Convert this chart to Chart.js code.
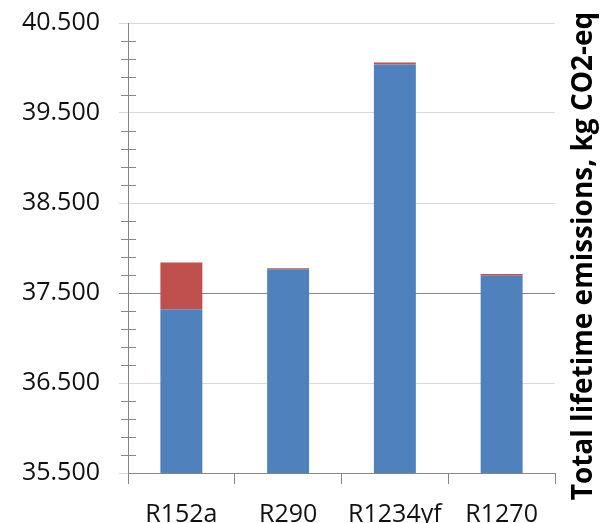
<!DOCTYPE html>
<html>
<head>
<meta charset="utf-8">
<script src="https://cdn.jsdelivr.net/npm/chart.js@4/dist/chart.umd.min.js"></script>
<style>
  html, body { margin: 0; padding: 0; background: #fff; }
  #wrap { width: 602px; height: 523px; }
</style>
</head>
<body>
<div id="wrap"><canvas id="c" width="602" height="523"></canvas></div>
<script>
// Refrigerant options and their lifetime emissions (kg CO2-eq)
const categories = ['R152a', 'R290', 'R1234yf', 'R1270'];
const indirectEmissions = [37320, 37765, 40040, 37692];
const directEmissions = [520, 10, 20, 18];

// Value axis range and tick spacing
const yMin = 35500;
const yMax = 40500;
const yMajorStep = 1000;
const yMinorStep = 200;
const yTitle = 'Total lifetime emissions, kg CO2-eq';

const FONT = '"Open Sans", "DejaVu Sans", sans-serif';
const AXIS_GREY = '#868686';
const GRID_GREY = '#d9d9d9';
const TEXT = '#111';

// Thousands grouped with a dot, e.g. 40.500
function formatThousands(v) {
  const s = String(Math.round(v));
  return s.replace(/\B(?=(\d{3})+(?!\d))/g, '.');
}

// Small marks between the labelled values on the value axis
const minorTicks = {
  id: 'minorTicks',
  afterDraw(chart) {
    const y = chart.scales.y;
    const ctx = chart.ctx;
    const x0 = y.right;
    ctx.save();
    ctx.strokeStyle = AXIS_GREY;
    ctx.lineWidth = 1;
    for (let v = yMin + yMinorStep; v < yMax; v += yMinorStep) {
      if ((v - yMin) % yMajorStep === 0) continue;
      const py = Math.round(y.getPixelForValue(v)) + 0.5;
      ctx.beginPath();
      ctx.moveTo(x0 - 7, py);
      ctx.lineTo(x0 + 8, py);
      ctx.stroke();
    }
    ctx.restore();
  }
};

// Value axis title set at the right edge, reading upwards
const sideTitle = {
  id: 'sideTitle',
  afterDraw(chart) {
    const ctx = chart.ctx;
    ctx.save();
    ctx.translate(584, 256);
    ctx.rotate(-Math.PI / 2);
    ctx.font = 'bold 28px ' + FONT;
    ctx.fillStyle = '#000';
    ctx.textAlign = 'center';
    ctx.textBaseline = 'middle';
    ctx.fillText(yTitle, 0, 0);
    ctx.restore();
  }
};

new Chart(document.getElementById('c'), {
  type: 'bar',
  data: {
    labels: categories,
    datasets: [
      {
        label: 'Indirect',
        data: indirectEmissions,
        backgroundColor: '#4f81bd',
        borderWidth: 0,
        categoryPercentage: 1,
        barPercentage: 0.393
      },
      {
        label: 'Direct',
        data: directEmissions,
        backgroundColor: '#c0504d',
        borderWidth: 0,
        categoryPercentage: 1,
        barPercentage: 0.393
      }
    ]
  },
  options: {
    responsive: false,
    devicePixelRatio: 1,
    animation: false,
    layout: { padding: { left: 0, right: 47, top: 23, bottom: 0 } },
    plugins: {
      legend: { display: false },
      tooltip: { enabled: false },
      title: { display: false }
    },
    scales: {
      x: {
        stacked: true,
        offset: true,
        grid: {
          offset: true,
          drawOnChartArea: false,
          drawTicks: true,
          tickLength: 11,
          color: AXIS_GREY
        },
        border: { display: true, color: AXIS_GREY },
        ticks: {
          color: TEXT,
          font: { family: FONT, size: 25 },
          padding: 16,
          maxRotation: 0,
          autoSkip: false
        },
        afterFit(scale) { scale.height = 50; }
      },
      y: {
        stacked: true,
        min: yMin,
        max: yMax,
        grid: {
          drawTicks: true,
          tickLength: 9,
          color: (c) => (c.tick && c.tick.value === 37500 ? AXIS_GREY : GRID_GREY)
        },
        border: { display: true, color: AXIS_GREY },
        ticks: {
          stepSize: yMajorStep,
          autoSkip: false,
          color: TEXT,
          font: { family: FONT, size: 25 },
          padding: 19,
          callback: (v) => formatThousands(v)
        },
        afterFit(scale) {
          scale.width = 128;
          scale.paddingTop = 0;
          scale.paddingBottom = 0;
        }
      }
    }
  },
  plugins: [minorTicks, sideTitle]
});
</script>
</body>
</html>
